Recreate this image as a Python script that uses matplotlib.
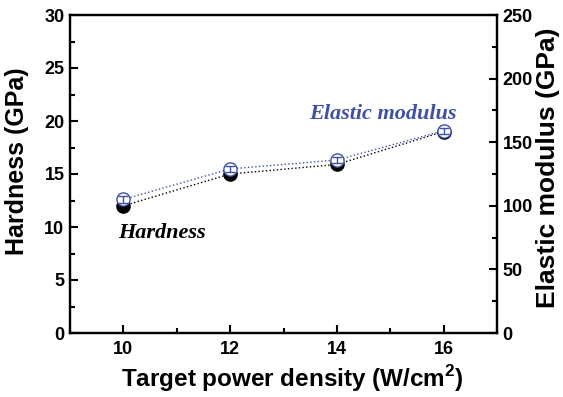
import matplotlib
matplotlib.use("Agg")
import matplotlib.pyplot as plt
from matplotlib.ticker import MultipleLocator

plt.rcParams['mathtext.fontset'] = 'custom'
plt.rcParams['mathtext.bf'] = 'Liberation Sans:bold'
plt.rcParams['mathtext.rm'] = 'Liberation Sans'

power = [10, 12, 14, 16]
hardness = [12.0, 15.0, 15.9, 19.0]
hardness_err = [0.3, 0.3, 0.3, 0.3]
modulus = [105, 129, 136, 159]
modulus_err = [2.5, 2.5, 2.5, 2.5]

blue = "#3F51A5"

fig = plt.figure(figsize=(5.63, 3.97), dpi=100)
ax = fig.add_axes([70/563, 1-333/397, (497-70)/563, (333-15)/397])
ax2 = ax.twinx()

ax.plot(power, hardness, 'o', ls=':', lw=1, color='black', ms=9.5,
        mfc='black', mec='black', zorder=3)
ax.errorbar(power, hardness, yerr=hardness_err, fmt='none', ecolor='black',
            capsize=3, elinewidth=1, zorder=3.5)
ax2.plot(power, modulus, 'o', ls=':', lw=1, color=blue, ms=9.5,
         mfc='white', mec=blue, mew=1, zorder=4)
ax2.errorbar(power, modulus, yerr=modulus_err, fmt='none', ecolor=blue,
             capsize=3.5, elinewidth=1, zorder=5)

ax.set_xlim(9, 17)
ax.set_ylim(0, 30)
ax2.set_ylim(0, 250)
ax.xaxis.set_major_locator(MultipleLocator(2))
ax.xaxis.set_minor_locator(MultipleLocator(1))
ax.yaxis.set_major_locator(MultipleLocator(5))
ax.yaxis.set_minor_locator(MultipleLocator(2.5))
ax2.yaxis.set_major_locator(MultipleLocator(50))
ax2.yaxis.set_minor_locator(MultipleLocator(25))

font = "Liberation Sans"
for a in (ax, ax2):
    for s in a.spines.values():
        s.set_linewidth(1.6)
    a.tick_params(which='major', direction='in', length=6, width=1.5, labelsize=13, pad=4)
    a.tick_params(which='minor', direction='in', length=3.5, width=1.5)
    for lab in a.get_xticklabels() + a.get_yticklabels():
        lab.set_fontfamily(font)
        lab.set_fontweight('bold')
ax.tick_params(axis='y', which='both', right=False)
ax2.tick_params(axis='y', which='both', left=False)
ax.tick_params(axis='x', pad=6)

ax.set_xlabel("Target power density (W/cm$^\\mathbf{2}$)", fontsize=17.5, fontweight='bold', family=font, labelpad=4)
ax.set_ylabel("Hardness (GPa)", fontsize=18, fontweight='bold', family=font)
ax2.set_ylabel("Elastic modulus (GPa)", fontsize=19, fontweight='bold', family=font)
ax.yaxis.set_label_coords(-0.097, 0.54)
ax2.yaxis.set_label_coords(1.092, 0.52)
ax.xaxis.set_label_coords(0.52, -0.095)

ax.text(9.9, 8.5, "Hardness", fontsize=16, fontweight='bold', style='italic',
        family="Liberation Serif", color='black', va='bottom')
ax2.text(16.24, 164.5, "Elastic modulus", fontsize=16, fontweight='bold', style='italic',
         family="Liberation Serif", color=blue, ha='right', va='bottom')

fig.savefig("out.png", dpi=100)
